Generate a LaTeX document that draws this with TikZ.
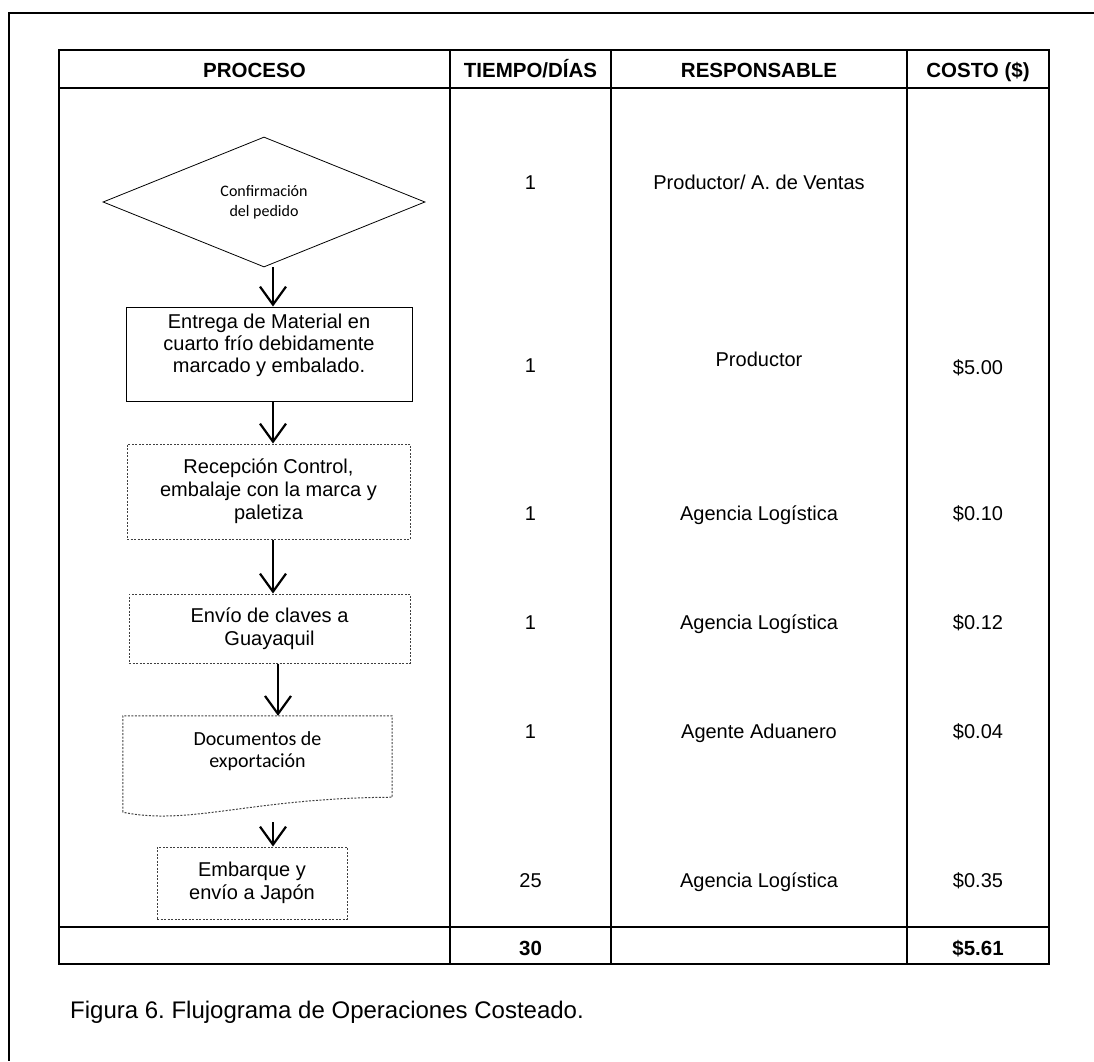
\documentclass[tikz,border=0pt]{standalone}
\usepackage{fontspec}
\setmainfont{Liberation Sans}
\newfontfamily\calibri{Carlito}
\usetikzlibrary{positioning, arrows.meta, shapes.geometric}
\frenchspacing

\tikzset{
  rule/.style={line width=2.8pt},
  flow/.style={line width=2.2pt, -{Straight Barb[length=18pt, width=26pt, line width=2.2pt]}},
  solidbox/.style={rectangle, draw, line width=1pt},
  dotbox/.style={rectangle, draw=black!75, line width=1pt, dash pattern=on 2pt off 1.5pt, align=center, font=\fontsize{20}{23}\selectfont},
  flowtxt/.style={align=center, font=\fontsize{20}{22}\selectfont},
  head/.style={font=\bfseries\fontsize{20.5}{24}\selectfont, text height=15pt, text depth=1.5pt},
  cell/.style={font=\fontsize{20}{24}\selectfont, text height=15pt, text depth=1.5pt}
}

\begin{document}
\begin{tikzpicture}[x=1pt, y=-1pt]
    \useasboundingbox (0,0) rectangle (1094,1061);
    \draw[rule] (1094,13) -- (9,13) -- (9,1061);

    \draw[rule] (59,50) rectangle (1049,964);
    \draw[rule] (59,88) -- (1049,88);
    \draw[rule] (59,927) -- (1049,927);
    \draw[rule] (450,50) -- (450,964);
    \draw[rule] (611,50) -- (611,964);
    \draw[rule] (907,50) -- (907,964);

    \node (proceso) [head] at (254.5,71) {PROCESO};
    \node (tiempo) [head] at (530.5,71) {TIEMPO/DÍAS};
    \node (responsable) [head] at (759,71) {RESPONSABLE};
    \node (costo) [head] at (978,71) {COSTO (\$)};

    \node (confirm) [diamond, draw, line width=0.8pt, minimum width=322pt, minimum height=130pt, inner sep=0pt, align=center, font=\calibri\fontsize{16}{20}\selectfont] at (264,202) {Confirmación\\del pedido};
    \node (entrega) [solidbox, minimum width=286pt, minimum height=94pt] at (269,354) {};
    \node (entregatxt) [flowtxt] at (269,345) {Entrega de Material en\\cuarto frío debidamente\\marcado y embalado.};
    \node (recepcion) [dotbox, minimum width=283pt, minimum height=95pt] at (268.5,491.5) {Recepción Control,\\embalaje con la marca y\\paletiza};
    \node (envio) [dotbox, minimum width=281pt, minimum height=69pt] at (269.5,628.5) {Envío de claves a\\Guayaquil};
    \node (docs) [rectangle, minimum width=269pt, minimum height=96pt] at (257.5,764) {};
    \node (docstxt) [align=center, font=\calibri\fontsize{20}{22}\selectfont] at (257.5,751) {Documentos de\\exportación};
    \node (embarque) [dotbox, minimum width=190pt, minimum height=72pt] at (252,883) {Embarque y\\envío a Japón};

    \draw[draw=black!75, line width=1pt, dash pattern=on 2pt off 1.5pt] (docs.south west) -- (docs.north west) -- (docs.north east) -- ([yshift=15pt]docs.south east) .. controls (250,798) and (190,826) .. (docs.south west);

    \coordinate (ax) at (273,0);
    \coordinate (bx) at (278,0);
    \draw[flow] (confirm.south -| ax) -- (entrega.north -| ax);
    \draw[flow] (entrega.south -| ax) -- (recepcion.north -| ax);
    \draw[flow] (recepcion.south -| ax) -- (envio.north -| ax);
    \draw[flow] (envio.south -| bx) -- (docs.north -| bx);
    \draw[flow, shorten <=10pt] (docs.south -| ax) -- (embarque.north -| ax);

    \node (dias1) [cell] at (530.5,183) {1};
    \node (resp1) [cell] at (759,183) {Productor/ A. de Ventas};
    \node (dias2) [cell] at (530.5,366) {1};
    \node (resp2) [cell] at (759,360) {Productor};
    \node (costo2) [cell] at (978,368) {\$5.00};
    \node (dias3) [cell] at (530.5,514) {1};
    \node (resp3) [cell] at (759,514) {Agencia Logística};
    \node (costo3) [cell] at (978,514) {\$0.10};
    \node (dias4) [cell] at (530.5,623) {1};
    \node (resp4) [cell] at (759,623) {Agencia Logística};
    \node (costo4) [cell] at (978,623) {\$0.12};
    \node (dias5) [cell] at (530.5,732) {1};
    \node (resp5) [cell] at (759,732) {Agente Aduanero};
    \node (costo5) [cell] at (978,732) {\$0.04};
    \node (dias6) [cell] at (530.5,881) {25};
    \node (resp6) [cell] at (759,881) {Agencia Logística};
    \node (costo6) [cell] at (978,881) {\$0.35};
    \node (totaldias) [head] at (530.5,949) {30};
    \node (totalcosto) [head] at (978,949) {\$5.61};

    \node (caption) [anchor=west, inner sep=0pt, font=\fontsize{24}{29}\selectfont] at (70,1012) {Figura 6. Flujograma de Operaciones Costeado.};
\end{tikzpicture}
\end{document}
